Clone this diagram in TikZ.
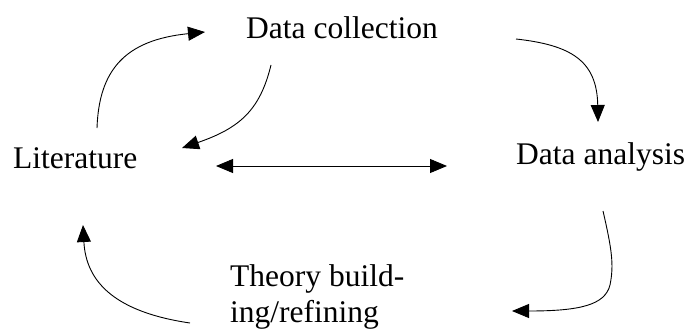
\documentclass[tikz,border=0pt]{standalone}
\usepackage{fontspec}
\setmainfont{Liberation Serif}
\usetikzlibrary{arrows.meta}
\begin{document}
\begin{tikzpicture}[x=1pt,y=-1pt,
  lbl/.style={font=\fontsize{31.5}{36}\selectfont, inner sep=0pt, anchor=base west, align=left},
  tipend/.style={-{Triangle[length=17pt,width=14pt]}},
  conn/.style={line width=0.9pt, tipend}]
\useasboundingbox (0,0) rectangle (687,329);
% labels
\node[lbl] (dc) at (246,39) {Data collection};
\node[lbl] (lit) at (13,168) {Literature};
\node[lbl] (da) at (516,164) {Data analysis};
\node[lbl] (th) at (230,322) {Theory build-\\ing/refining};
% connector ends
\coordinate (a1s) at (97,128);   \coordinate (a1e) at (205,32);
\coordinate (a2s) at (271,65);   \coordinate (a2e) at (182,148);
\coordinate (a3s) at (516,39);   \coordinate (a3e) at (598,122);
\coordinate (a4s) at (216,166);  \coordinate (a4e) at (447,166);
\coordinate (a5s) at (603,211);  \coordinate (a5e) at (512,311);
\coordinate (a6s) at (190,323);  \coordinate (a6e) at (83,225);
% connectors
\draw[conn] (a1s) .. controls (99,70) and (125,40) .. (a1e);
\draw[conn] (a2s) .. controls (260,110) and (240,128) .. (a2e);
\draw[conn] (a3s) .. controls (570,45) and (597,60) .. (a3e);
\draw[line width=0.9pt, {Triangle[length=17pt,width=14pt]}-{Triangle[length=17pt,width=14pt]}] (a4s) -- (a4e);
\draw[conn] (a5s) .. controls (612,250) and (614,265) .. (610,285) .. controls (605,305) and (580,311) .. (a5e);
\draw[conn] (a6s) .. controls (115,312) and (86,282) .. (a6e);
\end{tikzpicture}
\end{document}
